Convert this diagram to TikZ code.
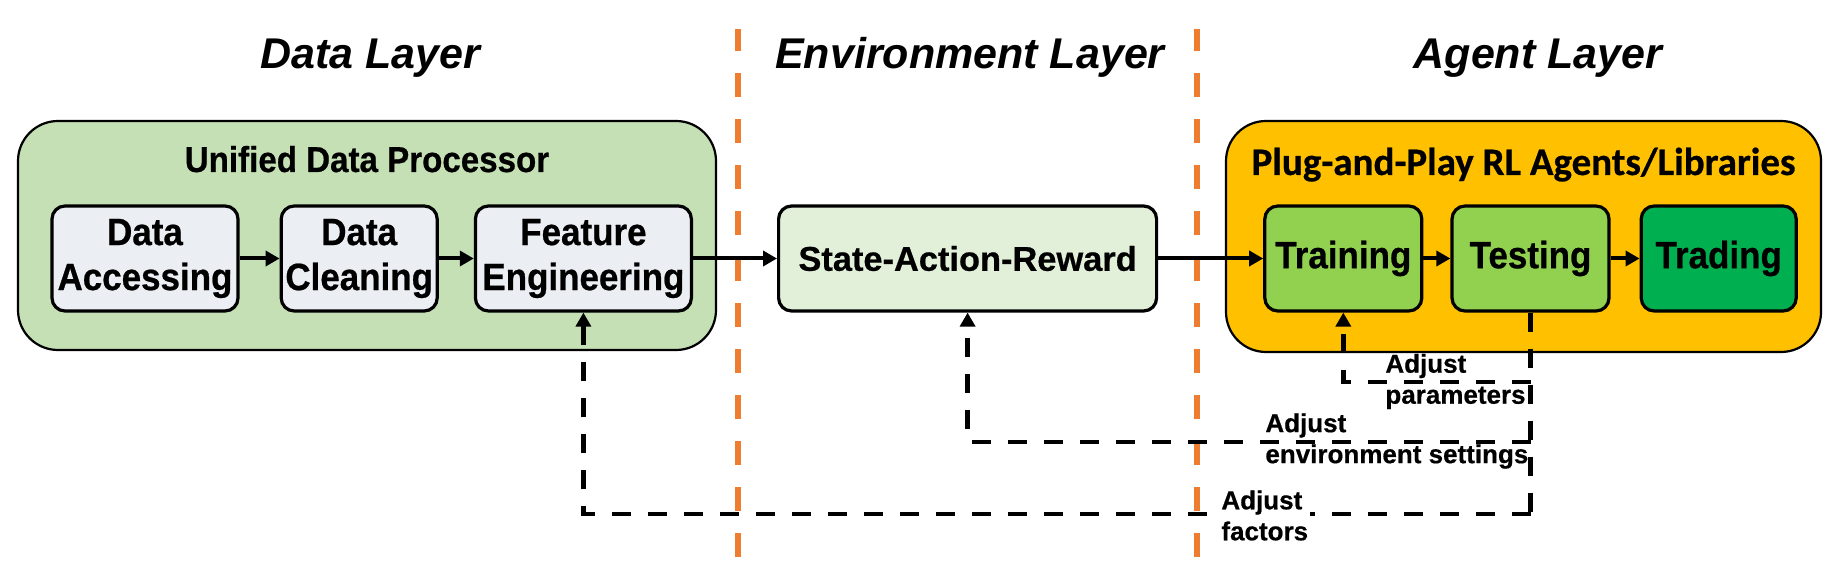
\documentclass[tikz,border=0pt]{standalone}
\usepackage{fontspec}
\setmainfont{Liberation Sans}[BoldFeatures={FakeBold=0.6}]
\newfontfamily\narrowsans{Liberation Sans}[FakeStretch=0.92, BoldFeatures={FakeBold=0.6}]
\newfontfamily\calibrisans{Carlito}[BoldFeatures={FakeBold=0.6}]
\usetikzlibrary{positioning, arrows.meta}

\definecolor{procgreen}{HTML}{C5E0B4}
\definecolor{stepgray}{HTML}{EBEEF3}
\definecolor{envgreen}{HTML}{E2F0D9}
\definecolor{agentorange}{HTML}{FFC000}
\definecolor{phasegreen}{HTML}{92D050}
\definecolor{tradegreen}{HTML}{00B050}
\definecolor{seporange}{HTML}{ED7D31}

\begin{document}
\begin{tikzpicture}[node distance=20pt, every node/.style={font=\bfseries},
  layertitle/.style={anchor=base, font=\fontsize{21.5}{26}\selectfont\bfseries\itshape},
  groupbox/.style={draw, line width=1.1pt, rounded corners=20pt},
  stepbox/.style={draw, line width=1.6pt, rounded corners=6.5pt, minimum height=52.5pt,
    align=center, inner sep=0.5pt, font=\narrowsans\fontsize{19}{22.5}\selectfont\bfseries},
  flow/.style={-{Triangle[length=7pt,width=7.5pt]}, line width=2pt},
  feedback/.style={line width=2.4pt, dash pattern=on 9.5pt off 8.5pt},
  tuning/.style={anchor=west, align=left, inner sep=1pt, font=\fontsize{13}{15.5}\selectfont\bfseries},
  sepline/.style={seporange, line width=2.6pt, dash pattern=on 12pt off 11pt}]
\useasboundingbox (0,0) rectangle (920pt,286.5pt);

% layer separators
\draw[sepline] (369pt,8pt) -- (369pt,272pt);
\draw[sepline] (598.5pt,8pt) -- (598.5pt,272pt);

% layer titles
\node (datatitle) [layertitle] at (185pt,252pt) {Data Layer};
\node (envtitle) [layertitle] at (485pt,252pt) {Environment Layer};
\node (agenttitle) [layertitle] at (769pt,252pt) {Agent Layer};

% group boxes
\node (processor) [groupbox, fill=procgreen, minimum width=349pt, minimum height=114.5pt]
  at (183.5pt,168.75pt) {};
\node (agents) [groupbox, fill=agentorange, minimum width=297.5pt, minimum height=115.5pt]
  at (761.75pt,168.25pt) {};
\node (proctitle) [anchor=base, font=\narrowsans\fontsize{18}{21}\selectfont\bfseries]
  at (183.5pt,200.5pt) {Unified Data Processor};
\node (agenttext) [anchor=base, font=\calibrisans\fontsize{19.5}{22}\selectfont\bfseries]
  at (761.75pt,199pt) {Plug-and-Play RL Agents/Libraries};

% steps
\node (access) [stepbox, fill=stepgray, minimum width=93pt] at (72.5pt,157.25pt) {Data\\Accessing};
\node (clean) [stepbox, fill=stepgray, minimum width=78pt, right=20pt of access] {Data\\Cleaning};
\node (feature) [stepbox, fill=stepgray, minimum width=108pt, right=17.5pt of clean] {Feature\\Engineering};
\node (sar) [stepbox, fill=envgreen, minimum width=189pt, right=42pt of feature,
  font=\fontsize{17.2}{20}\selectfont\bfseries] {State-Action-Reward};
\node (training) [stepbox, fill=phasegreen, minimum width=78.5pt, right=52.5pt of sar] {Training};
\node (testing) [stepbox, fill=phasegreen, minimum width=78.5pt, right=13.5pt of training] {Testing};
\node (trading) [stepbox, fill=tradegreen, minimum width=77.5pt, right=14.5pt of testing] {Trading};

\draw[flow] (access) -- (clean);
\draw[flow] (clean) -- (feature);
\draw[flow] (feature) -- (sar);
\draw[flow] (sar) -- (training);
\draw[flow] (training) -- (testing);
\draw[flow] (testing) -- (trading);

% feedback loops
\coordinate (paramlevel) at (0,95.5pt);
\coordinate (envlevel) at (0,65.5pt);
\coordinate (factorlevel) at (0,29.5pt);
\draw[feedback] (testing.south) -- (testing.south |- factorlevel);
\draw[feedback, -{Triangle[length=7pt,width=7.5pt]}] (testing.south |- paramlevel) -| (training.south);
\draw[feedback, -{Triangle[length=7pt,width=7.5pt]}] (testing.south |- envlevel) -| (sar.south);
\draw[feedback, -{Triangle[length=7pt,width=7.5pt]}] (testing.south |- factorlevel) -| (feature.south);

\node (paramlbl) [tuning] at (691.5pt,95.75pt) {Adjust\\parameters};
\node (envlbl) [tuning] at (631.5pt,66pt) {Adjust\\environment settings};
\node (factorlbl) [tuning, fill=white] at (609.5pt,28.75pt) {Adjust\\factors};
\end{tikzpicture}
\end{document}
